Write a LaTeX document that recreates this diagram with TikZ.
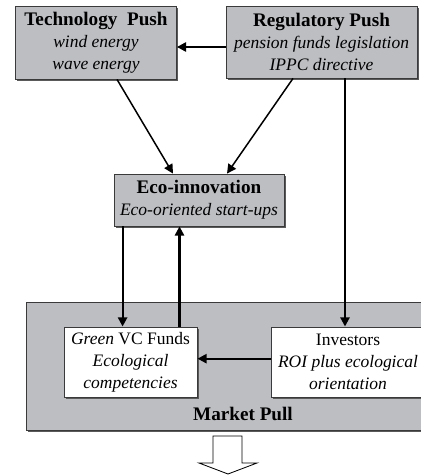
\documentclass[tikz,border=0pt]{standalone}
\usepackage{fontspec}
\setmainfont{Liberation Serif}
\usepackage{xcolor}
\definecolor{boxgrey}{HTML}{BCBEC2}
\definecolor{edge}{HTML}{3A3A3A}
\definecolor{shade}{HTML}{5A5A5A}
\usetikzlibrary{arrows.meta,positioning,calc,shadows}

\begin{document}
\begin{tikzpicture}[x=0.6pt, y=-0.6pt, font=\fontsize{10.5}{13.2}\selectfont,
  arr/.style={-{Triangle[length=5.5pt, width=5.5pt]}, line width=1.3pt},
  thinarr/.style={-{Triangle[length=5.5pt, width=5.5pt]}, line width=0.9pt},
  greybox/.style={draw=edge, fill=boxgrey, line width=0.5pt, align=center,
    inner sep=0pt, drop shadow={shadow xshift=1pt, shadow yshift=-1pt, fill=shade, opacity=1}},
  whitebox/.style={draw=edge, fill=white, line width=0.6pt, align=center,
    inner sep=0pt, drop shadow={shadow xshift=1.2pt, shadow yshift=-1.2pt, fill=shade, opacity=1}},
  headfont/.style={font=\fontsize{11.5}{13.2}\selectfont\bfseries}]
\useasboundingbox (0,0) rectangle (421,475);
% market pull frame
\node[greybox, minimum width=404*0.6pt, minimum height=128*0.6pt, anchor=north west] (mp) at (26,302) {};
\node[headfont] (mplabel) at (243,414) {Market Pull};
% top boxes
\node[greybox, minimum width=161*0.6pt, minimum height=73*0.6pt] (tp) at (96,42.5)
  {\textbf{\fontsize{11.5}{13.2}\selectfont Technology~~Push}\\\textit{wind energy}\\\textit{wave energy}};
\node[greybox, minimum width=191*0.6pt, minimum height=72*0.6pt] (rp) at (321.5,42)
  {\textbf{\fontsize{11.5}{13.2}\selectfont Regulatory Push}\\\textit{pension funds legislation}\\\textit{IPPC directive}};
\node[greybox, minimum width=170*0.6pt, minimum height=52*0.6pt] (eco) at (199,200)
  {\textbf{\fontsize{11.5}{13.2}\selectfont Eco-innovation}\\\textit{Eco-oriented start-ups}};
% inner boxes
\node[whitebox, minimum width=133*0.6pt, minimum height=70*0.6pt] (vc) at (130.5,362)
  {\textit{Green} VC Funds\\\textit{Ecological}\\\textit{competencies}};
\node[whitebox, minimum width=154*0.6pt, minimum height=70*0.6pt] (inv) at (348,362)
  {Investors\\\textit{ROI plus ecological}\\\textit{orientation}};
% connectors
\draw[arr] ([yshift=-3pt]rp.west) -- ([yshift=-3pt]rp.west -| tp.east);
\draw[thinarr] ($(tp.south)+(21,0)$) -- ($(eco.north)+(-26,0)$);
\draw[thinarr] ($(rp.south)+(-28.5,0)$) -- ($(eco.north)+(28,0)$);
\draw[arr] ($(rp.south)+(23.5,0)$) coordinate (r1) -- (r1 |- inv.north);
\draw[arr] ($(eco.south west)+(9,0)$) coordinate (e1) -- (e1 |- vc.north);
\draw[arr] ($(vc.north east)+(-18,0)$) coordinate (v1) -- (v1 |- eco.south);
\draw[arr] ([yshift=2pt]inv.west) -- ([yshift=2pt]inv.west -| vc.east);
% outcome arrow
\draw[line width=0.5pt, fill=white] (213,436) -- (242,436) -- (242,463) -- (257,463)
  -- (228,474) -- (199,463) -- (213,463) -- cycle;
\end{tikzpicture}
\end{document}
